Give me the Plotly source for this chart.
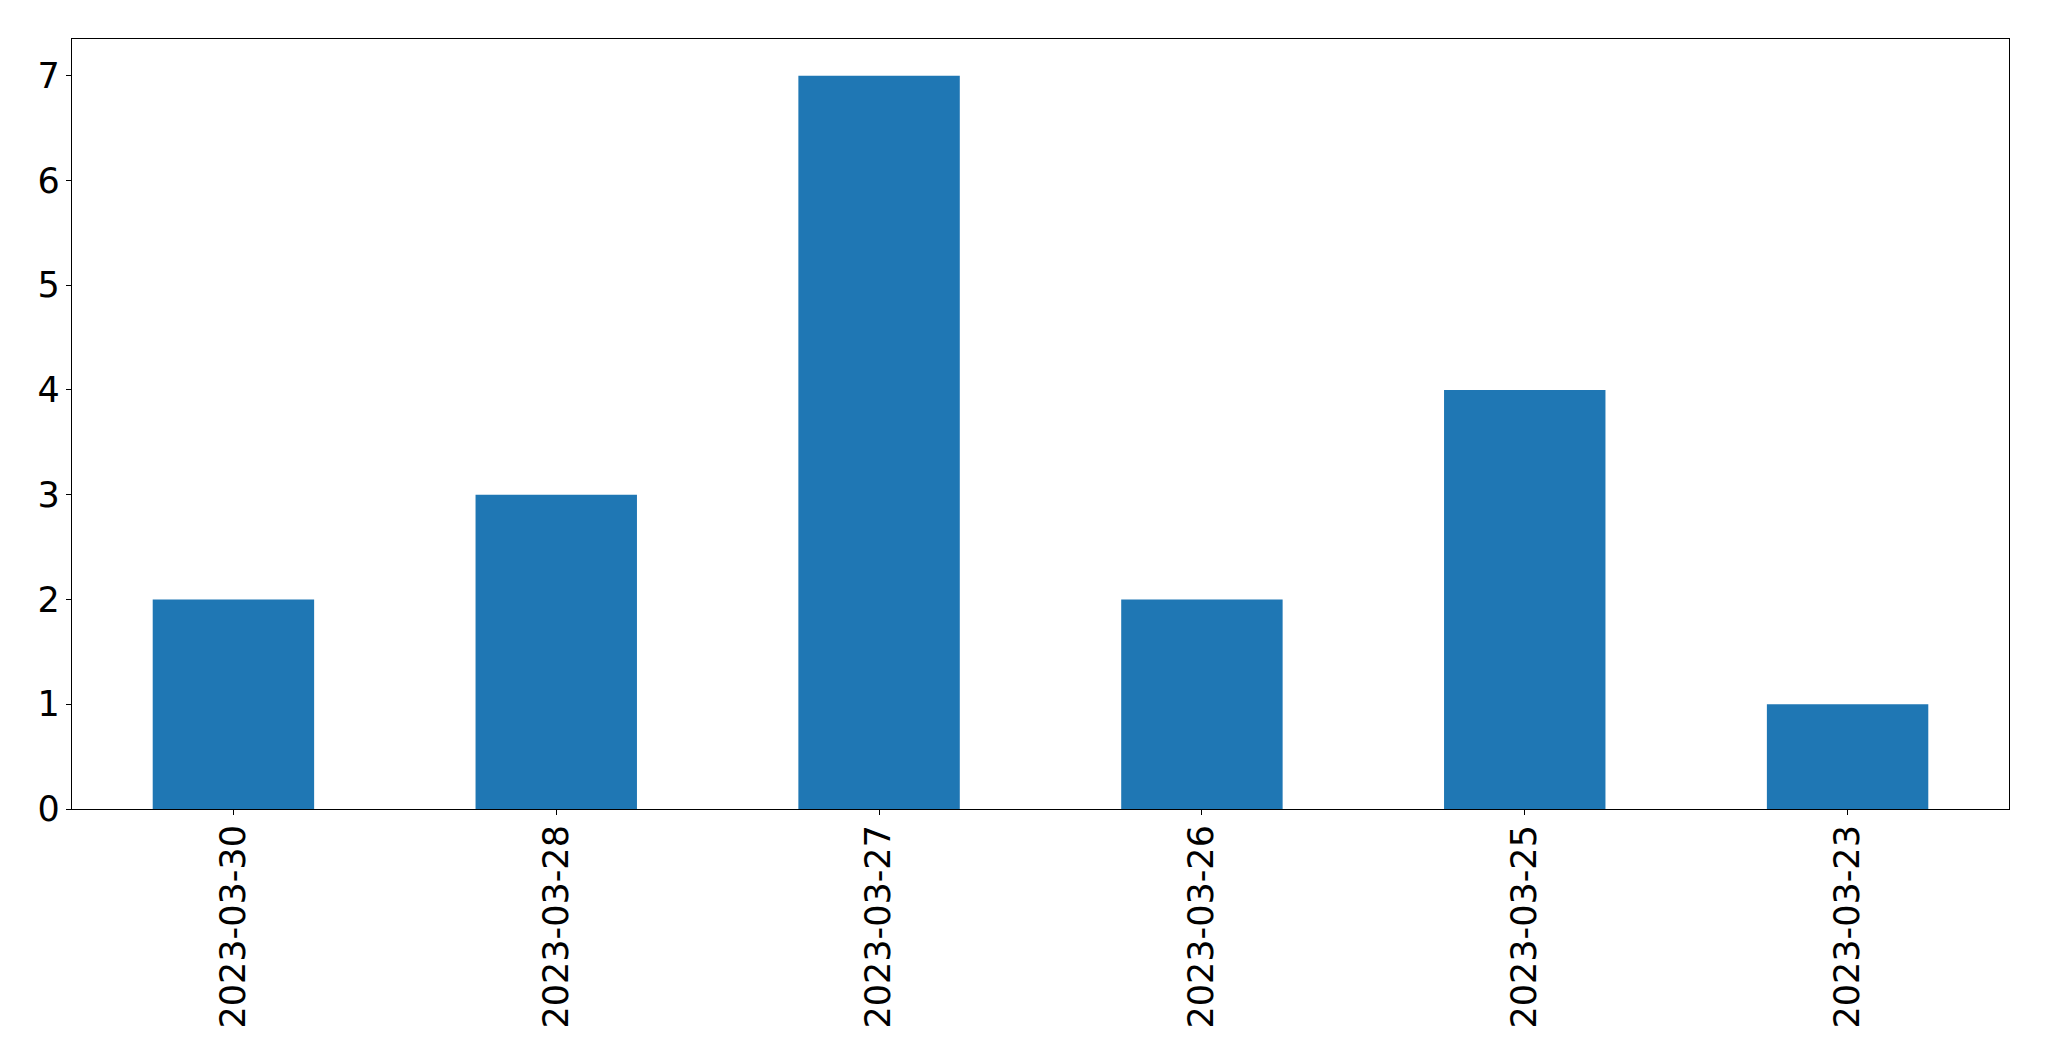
import plotly.graph_objects as go

dates = ["2023-03-30", "2023-03-28", "2023-03-27", "2023-03-26", "2023-03-25", "2023-03-23"]
counts = [2, 3, 7, 2, 4, 1]

fig = go.Figure()
fig.add_trace(go.Bar(
    x=list(range(len(dates))),
    y=counts,
    width=0.5,
    marker=dict(color="#1f77b4", line=dict(width=0)),
))

font = dict(family="DejaVu Sans", size=35, color="black")

fig.update_layout(
    width=2033, height=1045,
    margin=dict(l=64, r=32, t=31, b=244, pad=0),
    paper_bgcolor="white", plot_bgcolor="white",
    showlegend=False,
    font=font,
)
fig.update_xaxes(
    range=[-0.5, len(dates) - 0.5],
    tickmode="array",
    tickvals=list(range(len(dates))),
    ticktext=dates,
    tickangle=-90,
    ticks="outside", ticklen=5, tickwidth=1.2, tickcolor="black",
    showline=True, linecolor="black", linewidth=1.2, mirror=True,
    showgrid=False, zeroline=False,
    tickfont=font,
    ticklabelstandoff=-4,
)
fig.update_yaxes(
    range=[0, 7.35],
    tickmode="array",
    tickvals=list(range(8)),
    ticks="outside", ticklen=5, tickwidth=1.2, tickcolor="black",
    showline=True, linecolor="black", linewidth=1.2, mirror=True,
    showgrid=False, zeroline=False,
    tickfont=font,
    ticklabelstandoff=-1,
)

fig.write_html("out.html")
